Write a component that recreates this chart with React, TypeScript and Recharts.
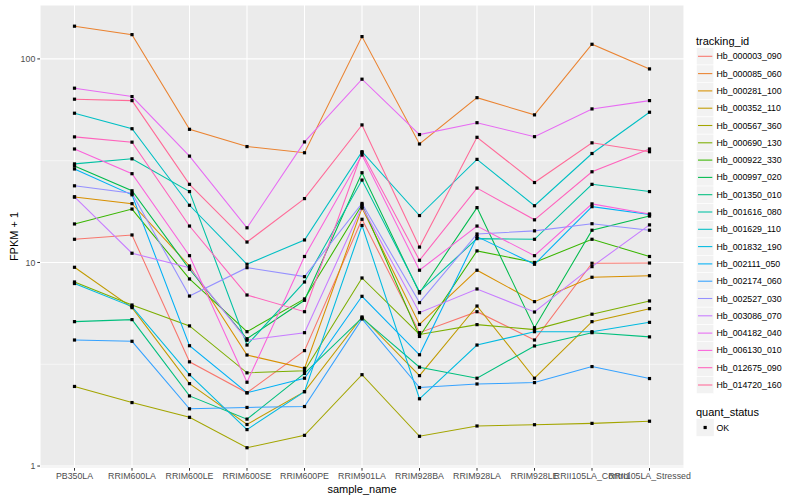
import React from "react";
import { LineChart, Line, XAxis, YAxis, CartesianGrid } from "recharts";

const samples = [
  "PB350LA", "RRIM600LA", "RRIM600LE", "RRIM600SE", "RRIM600PE", "RRIM901LA",
  "RRIM928BA", "RRIM928LA", "RRIM928LE", "RRII105LA_Control", "RRII105LA_Stressed",
];

const trackingIds = [
  "Hb_000003_090", "Hb_000085_060", "Hb_000281_100", "Hb_000352_110", "Hb_000567_360",
  "Hb_000690_130", "Hb_000922_330", "Hb_000997_020", "Hb_001350_010", "Hb_001616_080",
  "Hb_001629_110", "Hb_001832_190", "Hb_002111_050", "Hb_002174_060", "Hb_002527_030",
  "Hb_003086_070", "Hb_004182_040", "Hb_006130_010", "Hb_012675_090", "Hb_014720_160",
];

// FPKM + 1 per sample, in the order of `samples`
const hb_000003_090 = [13.0, 13.65, 3.25, 2.29, 3.69, 16.3, 4.52, 5.73, 4.16, 9.91, 9.94];
const hb_000085_060 = [144.8, 131.6, 45.1, 37.1, 34.6, 128.7, 38.2, 64.5, 53.1, 118, 89.3];
const hb_000281_100 = [20.98, 19.45, 9.61, 3.51, 3.02, 18.5, 4.96, 9.16, 6.42, 8.46, 8.61];
const hb_000352_110 = [9.47, 6.0, 2.54, 1.6, 2.32, 5.4, 2.78, 6.11, 2.7, 5.12, 5.93];
const hb_000567_360 = [2.46, 2.05, 1.735, 1.23, 1.415, 2.81, 1.4, 1.573, 1.596, 1.62, 1.66];
const hb_000690_130 = [8.02, 6.18, 4.88, 2.87, 2.94, 8.39, 4.43, 4.95, 4.68, 5.57, 6.47];
const hb_000922_330 = [15.46, 18.3, 8.3, 4.57, 6.62, 19.2, 4.33, 11.4, 10.0, 13.0, 10.7];
const hb_000997_020 = [29.8, 22.5, 9.26, 4.22, 6.52, 27.6, 7.08, 18.6, 4.78, 14.4, 16.9];
const hb_001350_010 = [5.12, 5.24, 2.21, 1.7, 2.85, 5.34, 3.06, 2.7, 3.89, 4.52, 4.31];
const hb_001616_080 = [30.5, 32.3, 22.3, 3.93, 8.02, 25.4, 7.19, 13.1, 13.0, 24.2, 22.3];
const hb_001629_110 = [54.1, 45.4, 19.1, 9.8, 12.9, 35.0, 17.0, 32.1, 19.0, 34.3, 54.7];
const hb_001832_190 = [7.88, 6.07, 2.81, 1.51, 2.32, 15.2, 2.14, 3.93, 4.57, 4.57, 5.08];
const hb_002111_050 = [28.8, 21.5, 3.9, 2.29, 2.7, 6.82, 3.52, 13.4, 9.8, 18.8, 17.2];
const hb_002174_060 = [4.16, 4.1, 1.91, 1.94, 1.96, 5.28, 2.43, 2.53, 2.57, 3.08, 2.69];
const hb_002527_030 = [23.8, 21.9, 6.84, 9.43, 8.52, 19.5, 6.35, 13.8, 14.3, 15.5, 14.4];
const hb_003086_070 = [21.0, 11.1, 9.43, 4.15, 4.52, 18.8, 5.67, 7.41, 5.71, 9.54, 15.3];
const hb_004182_040 = [71.8, 65.3, 33.3, 14.8, 39.1, 79.5, 42.5, 48.6, 41.5, 56.8, 62.4];
const hb_006130_010 = [36.1, 27.3, 10.8, 2.58, 10.7, 33.7, 9.16, 15.1, 10.8, 19.4, 17.3];
const hb_012675_090 = [41.4, 39.0, 15.1, 6.92, 5.73, 34.7, 10.25, 23.2, 16.2, 27.9, 36.1];
const hb_014720_160 = [63.4, 62.4, 24.2, 12.6, 20.6, 47.4, 11.9, 41.2, 24.7, 38.7, 35.0];

const seriesValues = [
  hb_000003_090, hb_000085_060, hb_000281_100, hb_000352_110, hb_000567_360,
  hb_000690_130, hb_000922_330, hb_000997_020, hb_001350_010, hb_001616_080,
  hb_001629_110, hb_001832_190, hb_002111_050, hb_002174_060, hb_002527_030,
  hb_003086_070, hb_004182_040, hb_006130_010, hb_012675_090, hb_014720_160,
];

const yTicks = [1, 10, 100];
const yMinor = [3.1623, 31.623];

const data = samples.map((s, i) => {
  const row: Record<string, any> = { sample: s };
  trackingIds.forEach((id, k) => {
    row[id] = seriesValues[k][i];
  });
  return row;
});

// ggplot2 hue palette: hcl(h, c=100, l=65)
function hclHex(h: number, c = 100, l = 65) {
  const hr = (h * Math.PI) / 180;
  const U = c * Math.cos(hr);
  const V = c * Math.sin(hr);
  const Xn = 95.047, Yn = 100, Zn = 108.883;
  const Y = Yn * Math.pow((l + 16) / 116, 3);
  const den = Xn + 15 * Yn + 3 * Zn;
  const un = (4 * Xn) / den;
  const vn = (9 * Yn) / den;
  const u = U / (13 * l) + un;
  const v = V / (13 * l) + vn;
  const X = (9 * Y * u) / (4 * v);
  const Z = (Y * (12 - 3 * u - 20 * v)) / (4 * v);
  const x = X / 100, y = Y / 100, z = Z / 100;
  const lin = [
    3.240479 * x - 1.53715 * y - 0.498535 * z,
    -0.969256 * x + 1.875992 * y + 0.041556 * z,
    0.055648 * x - 0.204043 * y + 1.057311 * z,
  ];
  return (
    "#" +
    lin
      .map((t) => {
        let g = t <= 0.0031308 ? 12.92 * t : 1.055 * Math.pow(t, 1 / 2.4) - 0.055;
        g = Math.min(1, Math.max(0, g));
        return Math.round(g * 255).toString(16).padStart(2, "0");
      })
      .join("")
  );
}

const colors = trackingIds.map((_, i) => hclHex(15 + (360 / trackingIds.length) * i));

const FONT = "'Liberation Sans', Arial, Helvetica, sans-serif";

const renderDot = (props: any) => {
  const { cx, cy, index, dataKey } = props;
  if (cx == null || cy == null) return <g key={`e-${dataKey}-${index}`} />;
  return (
    <rect
      key={`d-${dataKey}-${index}`}
      x={cx - 1.6}
      y={cy - 1.6}
      width={3.2}
      height={3.2}
      fill="#000000"
    />
  );
};

export default function App() {
  const legendTop = 56.3;
  const legendStep = 17.3;
  return (
    <div style={{ position: "absolute", left: 0, top: 0, width: 800, height: 500, background: "#ffffff" }}>
      <LineChart
        width={800}
        height={500}
        data={data}
        margin={{ top: 5, right: 116, bottom: 0, left: 0 }}
      >
        <CartesianGrid
          fill="#EBEBEB"
          fillOpacity={1}
          stroke="#FFFFFF"
          strokeWidth={1.07}
          strokeDasharray=""
        />
        <CartesianGrid
          horizontalValues={yMinor}
          vertical={false}
          stroke="#FFFFFF"
          strokeWidth={0.53}
          strokeDasharray=""
        />
        <XAxis
          dataKey="sample"
          interval={0}
          height={32}
          padding={{ left: 34.5, right: 34.5 }}
          axisLine={false}
          tickLine={{ stroke: "#333333", strokeWidth: 1 }}
          tickSize={2.7}
          tickMargin={2}
          tick={{ fontSize: 8.8, fill: "#4D4D4D", fontFamily: FONT }}
        />
        <YAxis
          type="number"
          scale="log"
          domain={[0.978, 184]}
          allowDataOverflow
          ticks={yTicks}
          width={40}
          axisLine={false}
          tickLine={{ stroke: "#333333", strokeWidth: 1 }}
          tickSize={2.7}
          tickMargin={2}
          tick={{ fontSize: 8.8, fill: "#4D4D4D", fontFamily: FONT }}
          tickFormatter={(v: number) => String(v)}
        />
        {trackingIds.map((id, k) => (
          <Line
            key={id}
            dataKey={id}
            type="linear"
            stroke={colors[k]}
            strokeWidth={1.07}
            dot={renderDot}
            activeDot={false}
            isAnimationActive={false}
          />
        ))}
      </LineChart>
      <svg
        width={800}
        height={500}
        style={{ position: "absolute", left: 0, top: 0, pointerEvents: "none" }}
        fontFamily={FONT}
      >
        <text x={13.5} y={236.5} fontSize={11} textAnchor="middle" dominantBaseline="central" transform="rotate(-90 13.5 236.5)" fill="#000">
          FPKM + 1
        </text>
        <text x={362} y={488.5} fontSize={11} textAnchor="middle" dominantBaseline="central" fill="#000">
          sample_name
        </text>
        <text x={696} y={40.7} fontSize={11} dominantBaseline="central" fill="#000">
          tracking_id
        </text>
        {trackingIds.map((id, k) => {
          const cy = legendTop + legendStep * k;
          return (
            <g key={id}>
              <rect x={696.5} y={cy - legendStep / 2} width={17.3} height={legendStep} fill="#F2F2F2" stroke="#FFFFFF" strokeWidth={0.6} />
              <line x1={698} x2={712.3} y1={cy} y2={cy} stroke={colors[k]} strokeWidth={1.07} />
              <text x={716.5} y={cy} fontSize={8.8} dominantBaseline="central" fill="#000">
                {id}
              </text>
            </g>
          );
        })}
        <text x={696} y={411.7} fontSize={11} dominantBaseline="central" fill="#000">
          quant_status
        </text>
        <rect x={696.5} y={427.5 - legendStep / 2} width={17.3} height={legendStep} fill="#F2F2F2" />
        <rect x={705.15 - 1.6} y={427.5 - 1.6} width={3.2} height={3.2} fill="#000" />
        <text x={716.5} y={427.5} fontSize={8.8} dominantBaseline="central" fill="#000">
          OK
        </text>
      </svg>
    </div>
  );
}
